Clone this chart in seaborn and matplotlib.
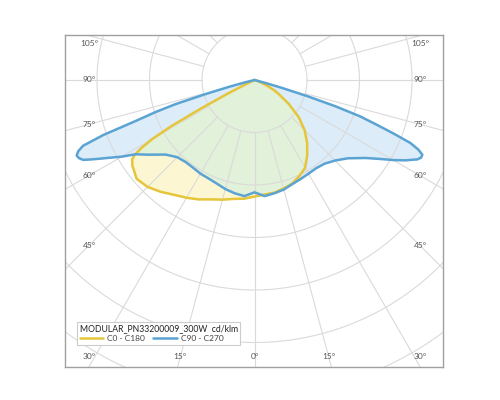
import numpy as np
import matplotlib
matplotlib.use("Agg")
import matplotlib.pyplot as plt
from matplotlib.patches import Polygon
from matplotlib.lines import Line2D
from matplotlib import font_manager
import seaborn as sns

# ---------------- data (cd/klm vs gamma angle) ----------------
gamma_c0 = [0, 5, 10, 15, 20, 25, 30, 35, 40, 45, 50, 55, 60, 62, 65, 68, 72, 75, 90, 180]
int_c0 = [222, 219, 218, 214, 210, 202, 193, 175, 156, 135, 110, 80, 53, 44, 29, 17, 6, 0, 0, 0]

gamma_c180 = [0, 5, 10, 15, 20, 25, 30, 35, 40, 45, 50, 55, 57, 58, 59, 60, 61, 62, 63, 64, 65, 90, 180]
int_c180 = [222, 227, 230, 236, 242, 251, 259, 267, 278, 288, 293, 284, 278, 269, 251, 225, 181, 114, 57, 19, 0, 0, 0]

gamma_c90 = [0, 5, 10, 15, 20, 25, 30, 35, 40, 45, 50, 55, 58, 60, 62, 63, 64, 65, 66, 67, 68, 69,
             70, 71, 72, 73, 74, 75, 76, 90, 180]
int_c90 = [214, 222, 219, 216, 211, 208, 206, 205, 208, 217, 232, 259, 284, 305, 326, 335, 345, 350,
           350, 339, 320, 282, 244, 213, 162, 105, 53, 19, 0, 0, 0]

gamma_c270 = [0, 5, 10, 15, 20, 25, 30, 35, 40, 45, 50, 55, 58, 60, 62, 63, 64, 65, 66, 67, 68, 69,
              70, 71, 72, 73, 74, 75, 76, 77, 90, 180]
int_c270 = [214, 222, 219, 215, 210, 207, 206, 204, 204, 208, 221, 248, 267, 292, 316, 330, 345, 360,
            366, 368, 362, 350, 307, 238, 200, 158, 95, 50, 19, 0, 0, 0]

ring_values = [100, 200, 300, 400, 500, 600, 700]
spoke_angles = list(range(-180, 181, 15))
side_labels = [-105, -90, -75, -60, -45, -30, -15, 0, 15, 30, 45, 60, 75, 90, 105]

legend_title = "MODULAR_PN33200009_300W  cd/klm"
label_c0 = "C0 - C180"
label_c90 = "C90 - C270"

# ---------------- style ----------------
sns.set_theme(style="white")
plt.rcParams["font.family"] = ["Lato", "DejaVu Sans"]

available = {f.name for f in font_manager.fontManager.ttflist}
title_family = ["Liberation Sans Narrow", "Lato"] if "Liberation Sans Narrow" in available else ["Lato"]

YELLOW = "#e5c53a"
BLUE = "#5aa3d3"
YELLOW_FILL = "#fdf6d2"
BLUE_FILL = "#dcecf8"
GREEN_FILL = "#e2f1d9"
GRID = "#dadada"

W, H = 500, 400
K = 0.525            # pixels per cd/klm
CX, CY = 254.5, 80   # centre of the diagram (pixels from top-left)
L, R, T, B = 65, 443, 35, 367  # frame

fig = plt.figure(figsize=(5, 4), dpi=100)
fig.patch.set_facecolor("white")
ax = fig.add_axes([L / W, 1 - B / H, (R - L) / W, (B - T) / H])
ax.set_xlim((L - CX) / K, (R - CX) / K)
ax.set_ylim(-(B - CY) / K, (CY - T) / K)
ax.set_xticks([])
ax.set_yticks([])
ax.set_facecolor("white")
for s in ax.spines.values():
    s.set_color("#a0a0a0")
    s.set_linewidth(1.0)


def to_xy(g_left, i_left, g_right, i_right):
    th = np.deg2rad(np.concatenate([-np.asarray(g_left, float)[::-1], np.asarray(g_right, float)]))
    r = np.concatenate([np.asarray(i_left, float)[::-1], np.asarray(i_right, float)])
    return r * np.sin(th), -r * np.cos(th)


xb, yb = to_xy(gamma_c270, int_c270, gamma_c90, int_c90)
xy_, yy_ = to_xy(gamma_c180, int_c180, gamma_c0, int_c0)

blue_poly = Polygon(np.column_stack([xb, yb]), closed=True, fc=BLUE_FILL, ec="none", zorder=1)
ax.add_patch(blue_poly)
yel_poly = Polygon(np.column_stack([xy_, yy_]), closed=True, fc=YELLOW_FILL, ec="none", zorder=1.1)
ax.add_patch(yel_poly)
green_poly = Polygon(np.column_stack([xy_, yy_]), closed=True, fc=GREEN_FILL, ec="none", zorder=1.2)
ax.add_patch(green_poly)
green_poly.set_clip_path(blue_poly)

# grid: rings and spokes
tt = np.linspace(0, 2 * np.pi, 400)
for rv in ring_values:
    ax.plot(rv * np.cos(tt), rv * np.sin(tt), color=GRID, lw=0.8, zorder=2)
r_in, r_out = ring_values[0], 1000
for a in spoke_angles:
    ar = np.deg2rad(a)
    ax.plot([r_in * np.sin(ar), r_out * np.sin(ar)], [-r_in * np.cos(ar), -r_out * np.cos(ar)],
            color=GRID, lw=0.8, zorder=2)

# curves
sns.lineplot(x=xy_, y=yy_, sort=False, estimator=None, ax=ax, color=YELLOW, lw=1.8, zorder=5)
sns.lineplot(x=xb, y=yb, sort=False, estimator=None, ax=ax, color=BLUE, lw=1.8, zorder=6)

# angle labels placed where each spoke meets an inset rectangle
xl, xr = (89 - CX) / K, (420 - CX) / K
yb_lab, yt_lab = -(356.7 - CY) / K, (CY - 44) / K
for a in side_labels:
    ar = np.deg2rad(a)
    dx, dy = np.sin(ar), -np.cos(ar)
    ts = []
    if dx > 1e-9:
        ts.append(xr / dx)
    if dx < -1e-9:
        ts.append(xl / dx)
    if dy > 1e-9:
        ts.append(yt_lab / dy)
    if dy < -1e-9:
        ts.append(yb_lab / dy)
    t = min(ts)
    px, py = t * dx, t * dy
    if abs(a) >= 30:
        px = xr if a > 0 else xl
    if abs(a) >= 105:
        py = yt_lab
    if abs(a) <= 30:
        py = yb_lab
    ax.text(px, py, f"{abs(a)}°", fontsize=6, color="#555555", ha="center", va="center", zorder=4)

handles = [Line2D([], [], color=YELLOW, lw=1.8), Line2D([], [], color=BLUE, lw=1.8)]
leg = fig.legend(handles, [label_c0, label_c90], loc="upper left",
                 bbox_to_anchor=(77 / W, 1 - 322 / H), ncol=2, title=legend_title,
                 fontsize=6, title_fontsize=7.5, frameon=True, fancybox=False,
                 edgecolor="#cccccc", framealpha=1, borderpad=0.3, handlelength=2.8,
                 handletextpad=0.5, columnspacing=1.0, labelspacing=0.2, alignment="left",
                 borderaxespad=0)
leg.get_frame().set_linewidth(0.8)
leg.get_title().set_color("#222222")
leg.get_title().set_family(title_family)
if title_family[0] == "Lato":
    leg.get_title().set_fontsize(6.2)
for txt in leg.get_texts():
    txt.set_color("#444444")
leg.set_zorder(10)

fig.savefig("out.png", dpi=100, facecolor="white")
